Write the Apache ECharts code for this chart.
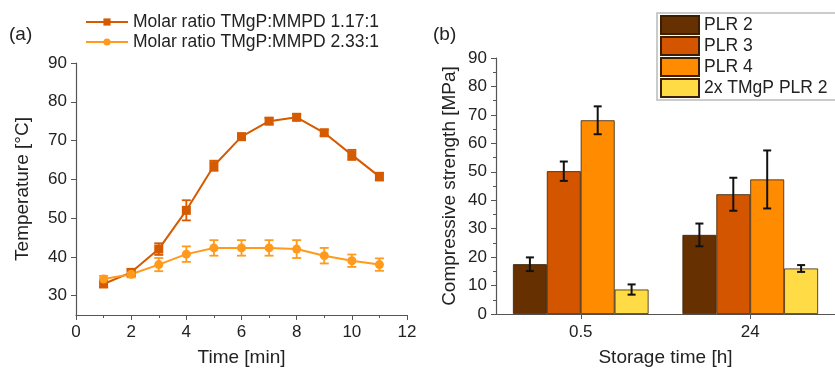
<!DOCTYPE html>
<html>
<head>
<meta charset="utf-8">
<script src="https://cdn.jsdelivr.net/npm/echarts@6/dist/echarts.min.js"></script>
<style>
  html, body { margin: 0; padding: 0; background: #fff; }
  #main { width: 835px; height: 368px; }
</style>
</head>
<body>
<div id="main"></div>
<script>
// panel (a): temperature over time
const timeMin = [1, 2, 3, 4, 5, 6, 7, 8, 9, 10, 11];
const temp117 = [33, 36, 42, 52, 63.5, 71, 75, 76, 72, 66.3, 60.7];
const err117 = [0.8, 0.8, 1.5, 2.6, 1.3, 0.8, 0.8, 0.8, 0.8, 1.3, 1.0];
const temp233 = [34.3, 35.5, 38, 40.7, 42.3, 42.3, 42.3, 42, 40.3, 39, 38];
const err233 = [0.8, 0.8, 1.7, 2.0, 2.0, 2.0, 2.0, 2.3, 2.0, 1.6, 1.6];
const lineNames = ["Molar ratio TMgP:MMPD 1.17:1", "Molar ratio TMgP:MMPD 2.33:1"];
const tempTicks = [30, 40, 50, 60, 70, 80, 90];

// panel (b): compressive strength
const storageTimes = ["0.5", "24"];
const barNames = ["PLR 2", "PLR 3", "PLR 4", "2x TMgP PLR 2"];
const plr2 = [17.5, 27.8];
const plr2Err = [2.4, 4.0];
const plr3 = [50.2, 42.1];
const plr3Err = [3.4, 5.8];
const plr4 = [68.1, 47.3];
const plr4Err = [4.9, 10.2];
const tmgp2 = [8.6, 16.0];
const tmgp2Err = [1.8, 1.2];

const lineColors = ["#d55a00", "#ff9a1c"];
const barColors = ["#663000", "#d45500", "#ff8c00", "#ffdc46"];
const font = "Liberation Sans, Arial, sans-serif";

const chart = echarts.init(document.getElementById("main"));

// error bars for the line chart
function lineErrors(xs, ys, es, color) {
  return {
    type: "custom",
    xAxisIndex: 0,
    yAxisIndex: 0,
    z: 3,
    silent: true,
    data: xs.map((x, i) => [x, ys[i] - es[i], ys[i] + es[i]]),
    renderItem: function (params, api) {
      const lo = api.coord([api.value(0), api.value(1)]);
      const hi = api.coord([api.value(0), api.value(2)]);
      const hw = 4.5;
      const st = { stroke: color, lineWidth: 1.8 };
      return {
        type: "group",
        children: [
          { type: "line", shape: { x1: lo[0], y1: lo[1], x2: hi[0], y2: hi[1] }, style: st },
          { type: "line", shape: { x1: lo[0] - hw, y1: lo[1], x2: lo[0] + hw, y2: lo[1] }, style: st },
          { type: "line", shape: { x1: hi[0] - hw, y1: hi[1], x2: hi[0] + hw, y2: hi[1] }, style: st }
        ]
      };
    }
  };
}

// error bars for grouped bars, offset per series inside the category
function barErrors(vals, errs, seriesIdx) {
  return {
    type: "custom",
    xAxisIndex: 1,
    yAxisIndex: 1,
    z: 5,
    silent: true,
    data: vals.map((v, i) => [i, v - errs[i], v + errs[i]]),
    renderItem: function (params, api) {
      const band = api.size([1, 0])[0];
      const barW = band * 0.8 / 4;
      const off = (seriesIdx - 1.5) * barW;
      const lo = api.coord([api.value(0), api.value(1)]);
      const hi = api.coord([api.value(0), api.value(2)]);
      const x = lo[0] + off;
      const hw = 4;
      const st = { stroke: "#111", lineWidth: 2 };
      return {
        type: "group",
        children: [
          { type: "line", shape: { x1: x, y1: lo[1], x2: x, y2: hi[1] }, style: st },
          { type: "line", shape: { x1: x - hw, y1: lo[1], x2: x + hw, y2: lo[1] }, style: st },
          { type: "line", shape: { x1: x - hw, y1: hi[1], x2: x + hw, y2: hi[1] }, style: st }
        ]
      };
    }
  };
}

const tickStyle = { color: "#555" };
const labelStyle = { color: "#222", fontSize: 17, fontFamily: font };
const axisCommon = {
  axisLine: { show: true, lineStyle: { color: "#555", width: 1.2 } },
  axisTick: { show: true, length: 5, lineStyle: tickStyle },
  minorTick: { show: true, splitNumber: 2, length: 3, lineStyle: tickStyle },
  axisLabel: Object.assign({ margin: 9 }, labelStyle),
  splitLine: { show: false },
  nameTextStyle: { color: "#222", fontSize: 19, fontFamily: font }
};

const barData = [plr2, plr3, plr4, tmgp2];
const barErrs = [plr2Err, plr3Err, plr4Err, tmgp2Err];

const option = {
  animation: false,
  textStyle: { fontFamily: font },
  graphic: [
    { type: "text", left: 9, top: 25, style: { text: "(a)", fontSize: 19, fill: "#222", fontFamily: font } },
    { type: "text", left: 433, top: 25, style: { text: "(b)", fontSize: 19, fill: "#222", fontFamily: font } }
  ],
  legend: [
    {
      data: lineNames,
      orient: "vertical",
      left: 80,
      top: 8,
      itemWidth: 42,
      itemHeight: 9,
      itemGap: 2,
      textStyle: { fontSize: 17.5, color: "#222", fontFamily: font }
    },
    {
      data: barNames,
      orient: "vertical",
      left: 657,
      top: 13,
      padding: [2, 40, 2, 3],
      itemWidth: 38,
      itemHeight: 18,
      itemGap: 1,
      borderColor: "#bbb",
      borderWidth: 1.5,
      icon: "rect",
      textStyle: { fontSize: 17.5, color: "#222", fontFamily: font }
    }
  ],
  grid: [
    { left: 76, top: 63, width: 331, bottom: 53, outerBoundsMode: "none" },
    { left: 496, top: 58, right: 0, bottom: 54, outerBoundsMode: "none" }
  ],
  xAxis: [
    Object.assign({}, axisCommon, {
      gridIndex: 0, type: "value", min: 0, max: 12, interval: 2,
      name: "Time [min]", nameLocation: "middle", nameGap: 33
    }),
    Object.assign({}, axisCommon, {
      gridIndex: 1, type: "category", data: storageTimes,
      axisTick: { show: true, alignWithLabel: true, length: 5, lineStyle: tickStyle },
      minorTick: { show: false },
      axisLabel: Object.assign({ margin: 10 }, labelStyle),
      name: "Storage time [h]", nameLocation: "middle", nameGap: 34
    })
  ],
  yAxis: [
    Object.assign({}, axisCommon, {
      gridIndex: 0, type: "value", min: 25, max: 90,
      axisLabel: Object.assign({ margin: 9, customValues: tempTicks }, labelStyle),
      axisTick: { show: true, length: 5, lineStyle: tickStyle, customValues: tempTicks },
      minorTick: { show: false },
      name: "Temperature [°C]", nameLocation: "middle", nameGap: 44
    }),
    Object.assign({}, axisCommon, {
      gridIndex: 1, type: "value", min: 0, max: 90, interval: 10,
      name: "Compressive strength [MPa]", nameLocation: "middle", nameGap: 37
    })
  ],
  series: [
    {
      name: lineNames[0], type: "line", xAxisIndex: 0, yAxisIndex: 0,
      data: timeMin.map((x, i) => [x, temp117[i]]),
      symbol: "rect", symbolSize: 9, z: 4,
      itemStyle: { color: lineColors[0] },
      lineStyle: { color: lineColors[0], width: 2 }
    },
    {
      name: lineNames[1], type: "line", xAxisIndex: 0, yAxisIndex: 0,
      data: timeMin.map((x, i) => [x, temp233[i]]),
      symbol: "circle", symbolSize: 9, z: 4,
      itemStyle: { color: lineColors[1] },
      lineStyle: { color: lineColors[1], width: 2 }
    },
    lineErrors(timeMin, temp117, err117, lineColors[0]),
    lineErrors(timeMin, temp233, err233, lineColors[1])
  ].concat(barNames.map((n, k) => ({
    name: n, type: "bar", xAxisIndex: 1, yAxisIndex: 1,
    data: barData[k],
    barGap: "0%", barCategoryGap: "20%",
    itemStyle: { color: barColors[k], borderColor: "#3a2000", borderWidth: 0.8 }
  }))).concat(barNames.map((n, k) => barErrors(barData[k], barErrs[k], k)))
};

chart.setOption(option);
</script>
</body>
</html>
